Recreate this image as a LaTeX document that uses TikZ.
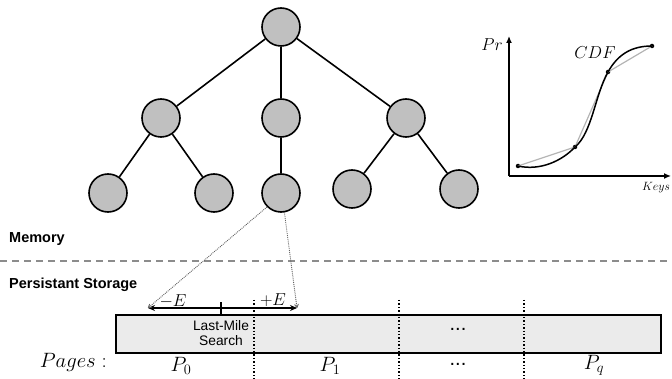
\documentclass[tikz,border=0pt]{standalone}
\usepackage{fontspec}
\setsansfont{Liberation Sans}
\usetikzlibrary{arrows.meta}
\definecolor{nodegray}{HTML}{C0C0C0}
\definecolor{boxgray}{HTML}{EBEBEB}
\definecolor{sepgray}{HTML}{8C8C8C}
\definecolor{fitgray}{HTML}{B4B4B4}
\definecolor{ptrgray}{HTML}{606060}
\begin{document}
\begin{tikzpicture}[x=1pt,y=-1pt,
  treenode/.style={circle,draw=black,line width=1.6pt,fill=nodegray,minimum size=38pt,inner sep=0pt},
  treeedge/.style={line width=1.6pt},
  ptr/.style={densely dotted,draw=ptrgray,line width=0.9pt,-{To[length=4pt,width=4.5pt]}},
  lbl/.style={font=\sffamily\bfseries\fontsize{14.5}{16}\selectfont,anchor=west,inner sep=0pt},
  pagesep/.style={dotted,line width=1.4pt},
  dot/.style={circle,fill=black,inner sep=0pt,minimum size=4.5pt},
  mathlbl/.style={inner sep=0pt,font=\fontsize{20}{22}\selectfont}]
\useasboundingbox (0,0) rectangle (672,379);
% tree
\node[treenode] (r) at (281,27) {};
\node[treenode] (a) at (161,118) {};
\node[treenode] (b) at (281,118) {};
\node[treenode] (c) at (406,118) {};
\node[treenode] (a1) at (108,193) {};
\node[treenode] (a2) at (214,193) {};
\node[treenode] (b1) at (281,193) {};
\node[treenode] (c1) at (352,189) {};
\node[treenode] (c2) at (459,189) {};
\draw[treeedge] (r) -- (a);
\draw[treeedge] (r) -- (b);
\draw[treeedge] (r) -- (c);
\draw[treeedge] (a) -- (a1);
\draw[treeedge] (a) -- (a2);
\draw[treeedge] (b) -- (b1);
\draw[treeedge] (c) -- (c1);
\draw[treeedge] (c) -- (c2);
% separator
\coordinate (sl) at (0,261);
\coordinate (sr) at (672,261);
\draw[sepgray,line width=1.3pt,dash pattern=on 7pt off 5pt] (sl) -- (sr);
\node[lbl] (mem) at (9,239) {Memory};
\node[lbl] (pers) at (9,285) {Persistant Storage};
% storage box
\node[draw=black,line width=1.3pt,fill=boxgray,minimum width=545pt,minimum height=38pt,inner sep=0pt] (box) at (388.5,334) {};
% page separators
\coordinate (s1t) at (254,300); \coordinate (s1b) at (254,379);
\coordinate (s2t) at (399,300); \coordinate (s2b) at (399,379);
\coordinate (s3t) at (524,300); \coordinate (s3b) at (524,379);
\draw[pagesep] (s1t) -- (s1b);
\draw[pagesep] (s2t) -- (s2b);
\draw[pagesep] (s3t) -- (s3b);
% error bounds
\coordinate (el) at (148,308);
\coordinate (er) at (297,308);
\coordinate (tk) at (221,308);
\draw[line width=1.4pt,{Stealth[length=7pt,width=6pt]}-{Stealth[length=7pt,width=6pt]}] (el) -- (er);
\draw[line width=1.2pt] ([yshift=-6pt]tk) -- ([yshift=6pt]tk);
\node[inner sep=0pt,font=\fontsize{17}{19}\selectfont] (me) at (173,301) {$-E$};
\node[inner sep=0pt,font=\fontsize{17}{19}\selectfont] (pe) at (273,300) {$+E$};
\draw[ptr] (b1.225) -- (el);
\draw[ptr] (b1.-80) -- (er);
\node[align=center,inner sep=0pt,font=\sffamily\fontsize{13.8}{15.5}\selectfont] (lms) at (221,333) {Last-Mile\\Search};
\node[inner sep=0pt,font=\sffamily\fontsize{20}{22}\selectfont] (d1) at (458,329) {...};
% page labels
\node[mathlbl,anchor=east] (pg) at (107,362) {$Pages:$};
\node[mathlbl] (p0) at (181,366) {$P_0$};
\node[mathlbl] (p1) at (330,366) {$P_1$};
\node[inner sep=0pt,font=\sffamily\fontsize{20}{22}\selectfont] (d2) at (458,364) {...};
\node[mathlbl] (pq) at (594,365) {$P_q$};
% CDF chart
\coordinate (o) at (509,176);
\coordinate (ytop) at (509,36);
\coordinate (xend) at (671,176);
\draw[line width=1.3pt,-{Latex[length=7pt,width=6pt]}] (o) -- (ytop);
\draw[line width=1.3pt,-{Latex[length=7pt,width=6pt]}] (o) -- (xend);
\node[inner sep=0pt,font=\fontsize{19}{21}\selectfont] (pr) at (492,45) {$Pr$};
\node[inner sep=0pt,font=\fontsize{17}{19}\selectfont] (cdf) at (595,53) {$CDF$};
\node[inner sep=0pt,font=\fontsize{12}{14}\selectfont] (keys) at (656,188) {$Keys$};
\node[dot] (q1) at (518,166) {};
\node[dot] (q2) at (575,147) {};
\node[dot] (q3) at (608,72) {};
\node[dot] (q4) at (652,46) {};
\draw[fitgray,line width=1.2pt] (q1.center) -- (q2.center) -- (q3.center) -- (q4.center);
\draw[line width=1.5pt] (q1.center) .. controls (540,171) and (562,161) .. (q2.center)
  .. controls (592,133) and (595,95) .. (q3.center)
  .. controls (618,54) and (632,46) .. (q4.center);
\end{tikzpicture}
\end{document}
